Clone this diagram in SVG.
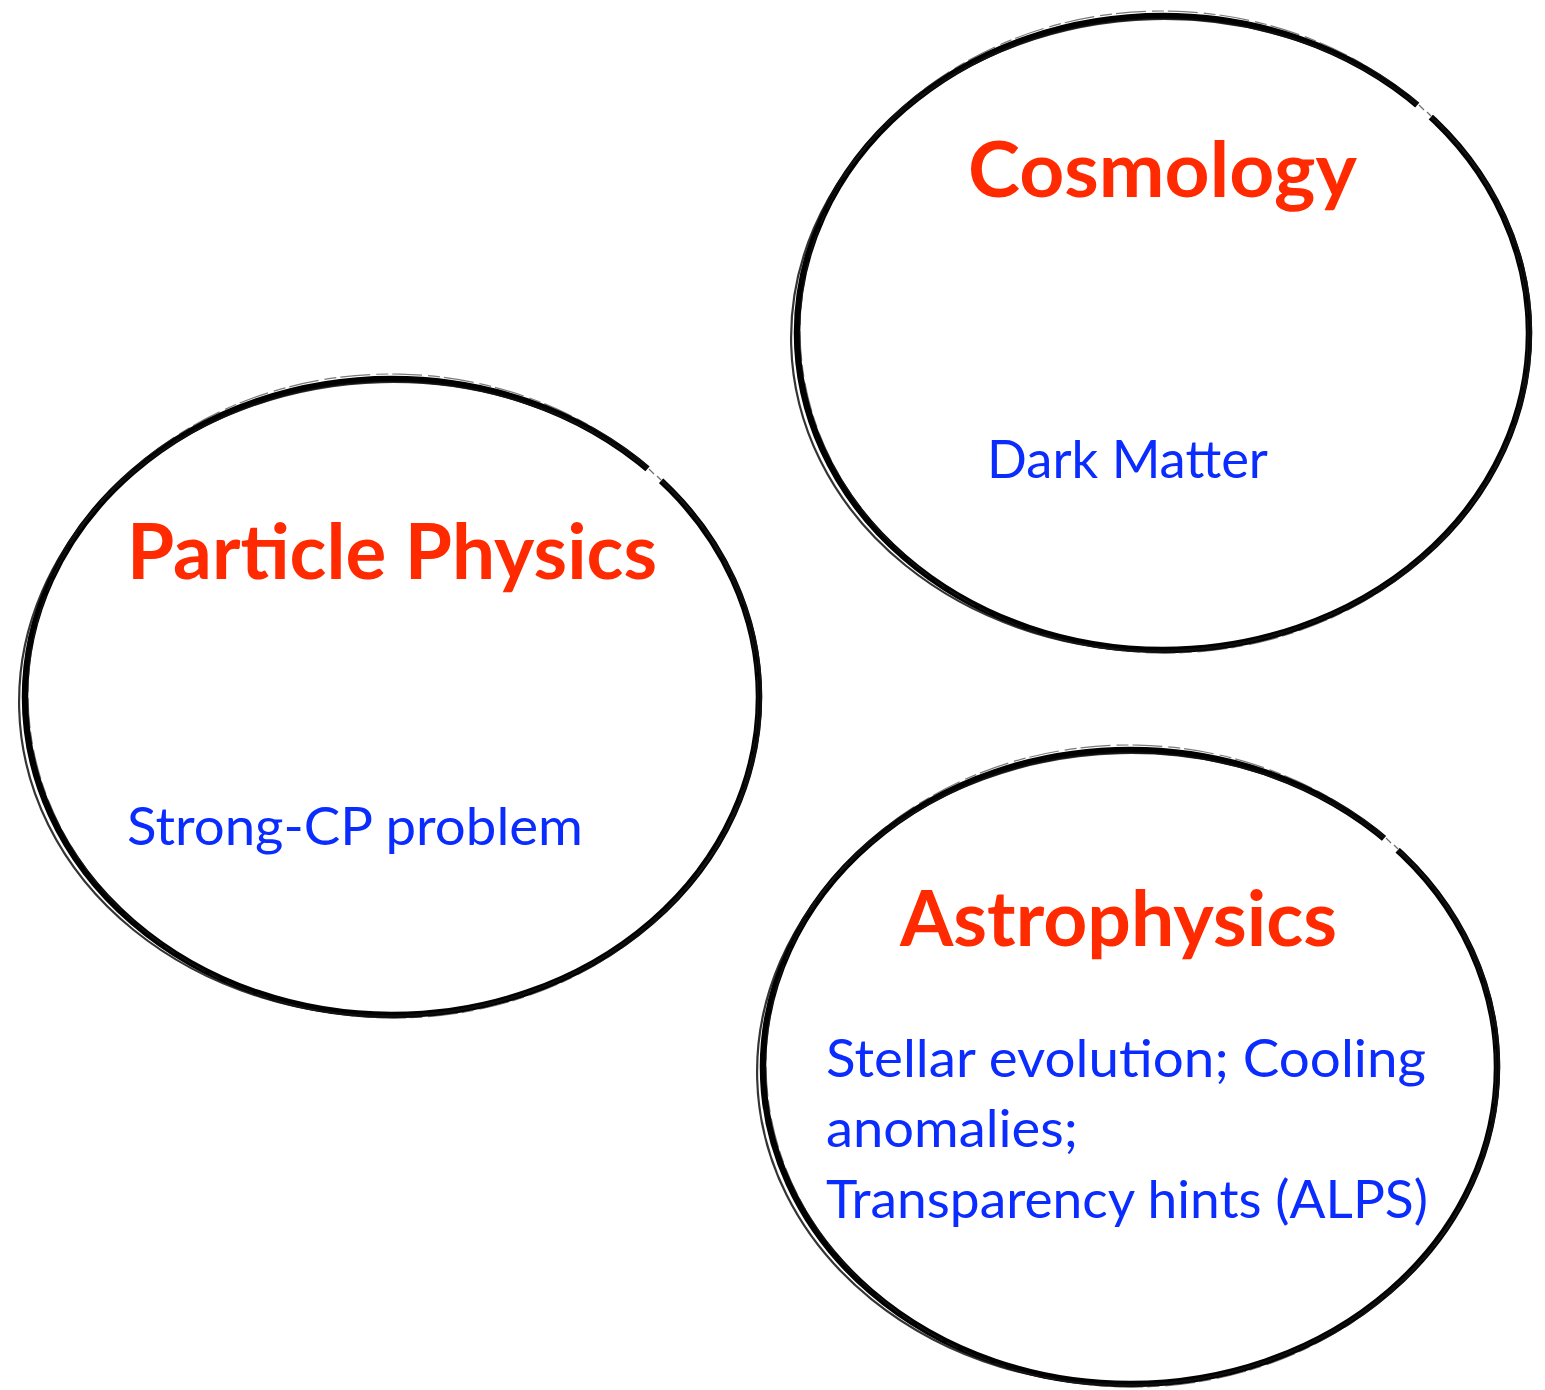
<svg xmlns="http://www.w3.org/2000/svg" width="1545" height="1390" viewBox="0 0 1545 1390">
<defs>
<style>
.ring{fill:none;stroke:#000;stroke-width:6.5}
.ring2{fill:none;stroke:#111;stroke-width:2.2;opacity:0.85}
.ring3{fill:none;stroke:#222;stroke-width:1.2;opacity:0.6;stroke-dasharray:30 6 12 4}
.gap{fill:#fff}
.tick{stroke:#333;stroke-width:1.2;opacity:0.7}
.title{font-family:Lato,"Noto Sans",sans-serif;font-weight:bold;font-size:76px;fill:#ff2a00}
.body{font-family:Lato,"Noto Sans",sans-serif;font-size:52px;fill:#0a2cff}
</style>
</defs>
<rect width="1545" height="1390" fill="#fff"/>
<g id="cosmology">
<ellipse class="ring" cx="1163" cy="333" rx="366" ry="317"/>
<ellipse class="ring2" cx="1161" cy="335" rx="370" ry="316" transform="rotate(-1.5 1163 333)"/>
<ellipse class="ring3" cx="1164" cy="332" rx="364" ry="321" transform="rotate(1.2 1163 333)"/>
<rect class="gap" x="-9" y="-10" width="18" height="20" transform="translate(1425 110) rotate(41.5)"/>
<line class="tick" x1="1419" y1="105" x2="1424" y2="110"/>
<line class="tick" x1="1427" y1="112" x2="1431" y2="116"/>
<text class="title" x="968" y="197" textLength="389" lengthAdjust="spacingAndGlyphs">Cosmology</text>
<text class="body" x="987" y="478" textLength="281" lengthAdjust="spacingAndGlyphs">Dark Matter</text>
</g>
<g id="particle-physics">
<ellipse class="ring" cx="392" cy="697" rx="367" ry="318"/>
<ellipse class="ring2" cx="390" cy="699" rx="371" ry="317" transform="rotate(-1.5 392 697)"/>
<ellipse class="ring3" cx="393" cy="696" rx="365" ry="322" transform="rotate(1.2 392 697)"/>
<rect class="gap" x="-9" y="-10" width="18" height="20" transform="translate(655 474) rotate(41.5)"/>
<line class="tick" x1="649" y1="469" x2="654" y2="474"/>
<line class="tick" x1="657" y1="476" x2="661" y2="480"/>
<text class="title" x="127" y="579" textLength="530" lengthAdjust="spacingAndGlyphs">Particle Physics</text>
<text class="body" x="127" y="845" textLength="456" lengthAdjust="spacingAndGlyphs">Strong-CP problem</text>
</g>
<g id="astrophysics">
<ellipse class="ring" cx="1130" cy="1067" rx="367" ry="317"/>
<ellipse class="ring2" cx="1128" cy="1069" rx="371" ry="316" transform="rotate(-1.5 1130 1067)"/>
<ellipse class="ring3" cx="1131" cy="1066" rx="365" ry="321" transform="rotate(1.2 1130 1067)"/>
<rect class="gap" x="-9" y="-10" width="18" height="20" transform="translate(1392 843) rotate(41.5)"/>
<line class="tick" x1="1386" y1="838" x2="1391" y2="843"/>
<line class="tick" x1="1394" y1="845" x2="1398" y2="849"/>
<text class="title" x="900" y="946" textLength="437" lengthAdjust="spacingAndGlyphs">Astrophysics</text>
<text class="body" x="826" y="1077" textLength="600" lengthAdjust="spacingAndGlyphs">Stellar evolution; Cooling</text>
<text class="body" x="826" y="1147" textLength="252" lengthAdjust="spacingAndGlyphs">anomalies;</text>
<text class="body" x="826" y="1218" textLength="602" lengthAdjust="spacingAndGlyphs">Transparency hints (ALPS)</text>
</g>
<g id="connectors"></g>
</svg>
